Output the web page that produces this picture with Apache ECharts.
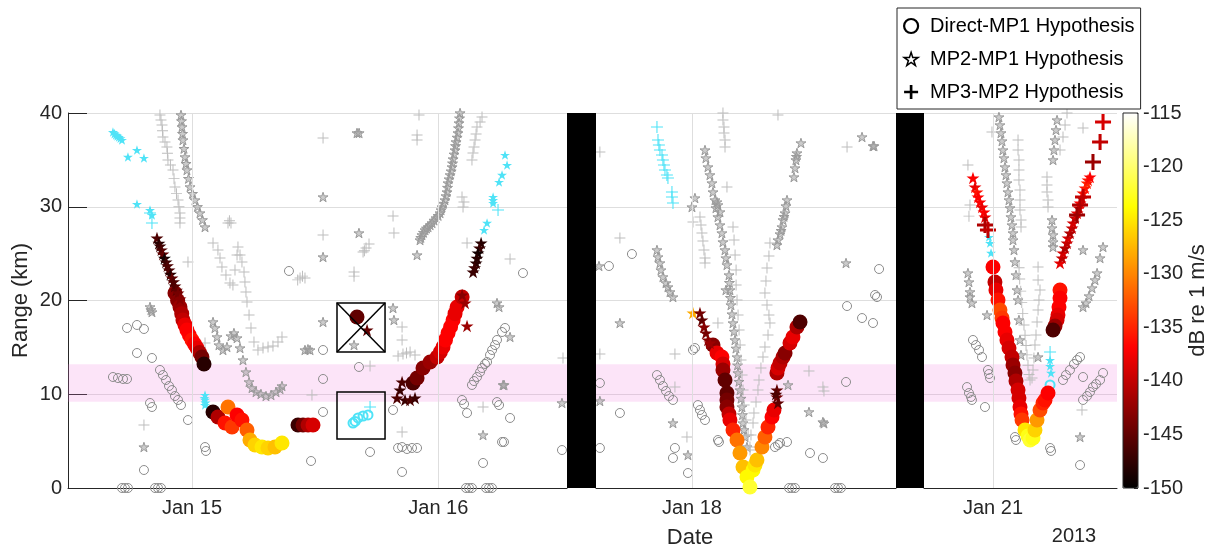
<!DOCTYPE html>
<html><head><meta charset="utf-8">
<script src="https://cdn.jsdelivr.net/npm/echarts@6/dist/echarts.min.js"></script>
<style>html,body{margin:0;padding:0;background:#fff}#c{width:1215px;height:548px}</style>
</head><body><div id="c"></div><script>
// ---------- axis / tick data (x in hours after Jan 15 2013 00:00, y in km) ----------
const tickHours = [0, 24, 72, 144];
const tickLabels = ['Jan 15', 'Jan 16', 'Jan 18', 'Jan 21'];
const segments = [[-12.08, 36.54], [62.65, 91.88], [137.28, 156.08]];
const rangeMin = 0, rangeMax = 40, rangeStep = 10;
const dBMin = -150, dBMax = -115, dBStep = 5;
const pinkBand = [9.2, 13.2];
const boxA = [14.13, 14.51, 18.81, 19.73];
const boxB = [14.13, 5.23, 18.81, 10.24];

// ---------- gray (non-selected) detections ----------
const grayCircles = [
 [-7.7,11.84],[-7.21,11.73],[-6.72,11.63],[-6.33,11.63],
 [-3.12,12.59],[-2.83,12.05],[-2.53,11.52],[-2.24,10.88],[-1.95,10.45],[-1.66,9.81],[-1.36,9.39],[-1.07,8.85],
 [-6.33,17.07],[-5.36,17.39],[-4.68,16.96],[-5.36,14.4],[-3.9,13.87],[-4.09,9.07],[-3.9,8.64],[-0.39,7.25],[1.27,4.37],[1.36,3.95],[-4.68,1.92],[12.77,14.72],[12.77,11.63],[12.77,8.11],[11.6,2.88],[9.45,23.15],
 [-6.82,0],[-6.53,0],[-6.24,0],[-3.6,0],[-3.31,0],[-3.02,0],
 [27.28,10.99],[27.48,11.41],[27.77,11.84],[28.07,12.37],[28.26,12.8],[28.55,13.23],[28.75,13.44],[29.04,14.19],[29.24,14.72],[29.53,15.25],[29.72,15.79],[30.21,16.64],[30.5,17.07],
 [26.31,9.39],[26.51,8.96],[26.8,8.0],[29.72,9.17],[29.92,8.85],[30.99,7.47],[30.21,4.91],[30.4,4.91],[28.36,2.67],[36.05,4.05],[19.59,8.32],[16.27,12.91],[17.35,3.84],[20.47,1.71],[20.08,4.27],[20.47,4.37],[20.95,4.16],[21.44,4.27],[21.93,4.27],[32.25,22.93],
 [26.7,0],[26.99,0],[27.28,0],[28.65,0],[28.94,0],[29.23,0],
 [66.15,24.96],[63.91,23.68],[90.23,23.36],[89.84,20.59],[90.03,20.37],[68.59,12.05],[68.88,11.52],[69.17,10.88],[69.47,10.35],[69.76,9.81],[70.15,9.39],[72.58,8.85],[72.78,8.32],[72.97,7.79],[73.27,7.25],[74.53,5.12],[74.63,4.91],[80.09,4.37],[80.38,4.59],[80.58,4.8],[81.26,4.91],[63.03,11.2],[64.98,8.0],[63.03,4.27],[70.34,4.27],[70.15,3.2],[71.61,1.6],[72.1,14.72],[72.29,14.93],[83.5,3.73],[84.76,3.2],[87.11,19.41],[88.57,18.13],[89.64,17.6],[87.01,11.31],
 [81.46,0],[81.75,0],[82.04,0],[85.94,0],[86.23,0],[86.52,0],
 [142.05,15.79],[142.34,15.25],[142.64,14.72],[142.93,13.97],[143.51,12.59],[143.61,12.16],[143.71,11.73],[141.47,10.77],[141.66,10.13],[141.86,9.71],[141.95,9.39],[143.22,8.64],[146.14,5.44],[146.24,5.12],[149.56,4.27],[149.66,3.95],[152.48,2.45],[150.82,11.52],[151.11,12.05],[151.5,12.59],[151.89,13.23],[152.19,13.65],[152.48,13.97],[154.72,12.27],[154.43,11.52],[154.04,11.09],[153.74,10.77],[153.45,10.24],[153.16,9.81],[152.77,9.39],[152.77,11.84]
];
const grayStars = [
 [-1.07,39.79],[-1.02,39.15],[-0.97,38.51],[-0.92,37.8],[-0.88,37.12],[-0.78,36.2],[-0.68,35.31],[-0.58,34.6],[-0.49,33.92],[-0.34,33.0],[-0.19,32.11],[0.05,31.4],[0.29,30.72],[0.53,30.0],[0.78,29.33],[1.02,28.6],[1.27,27.84],
 [2.05,17.71],[2.24,17.07],[2.44,16.11],[2.63,15.25],[3.02,14.72],[3.41,15.04],[3.8,16.21],[4.09,16.53],[4.39,16.0],[4.68,14.93],[4.97,13.65],[5.26,12.37],[5.56,11.31],[5.85,10.67],[6.24,10.24],[6.72,10.03],[7.21,9.81],[7.7,9.92],[8.19,10.24],[8.58,10.56],[8.77,10.88],
 [11.01,14.72],[11.3,14.8],[11.5,14.72],[-4.09,19.31],[-3.9,18.77],[-4.0,19.0],
 [12.77,31.04],[12.77,24.64],[-4.68,4.37],[12.77,17.71],[16.08,37.87],[16.28,37.87],[16.27,27.2],[21.93,24.85],[19.59,19.2],[19.68,17.92],[15.79,15.25],
 [26.12,40.0],[26.07,39.45],[26.02,38.93],[25.97,38.4],[25.92,37.87],[25.83,37.4],[25.73,36.91],[25.68,36.5],[25.63,36.05],[25.53,35.6],[25.44,35.09],[25.39,34.65],[25.34,34.24],[25.25,33.8],[25.15,33.39],[25.05,32.95],[24.95,32.53],[24.9,32.05],[24.85,31.57],[24.75,31.15],[24.65,30.72],[24.5,30.35],[24.36,29.97],[24.27,29.65],[24.17,29.33],[23.98,29.05],[23.78,28.8],[23.58,28.55],[23.39,28.27],[23.2,28.05],[23.0,27.84],[22.85,27.7],[22.71,27.52],[22.56,27.25],[22.41,26.99],[22.3,26.7],[22.22,26.45],
 [29.72,19.73],[29.92,19.31],[30.99,16.11],[30.31,10.99],[30.41,10.99],[28.36,5.65],[36.05,9.07],
 [73.27,36.05],[73.36,35.2],[73.56,34.24],[73.75,33.39],[73.95,32.53],[74.05,31.57],[74.24,30.72],[74.34,29.87],[74.53,28.91],[74.73,28.05],[74.92,27.2],[75.02,26.24],[75.22,25.39],[75.31,24.53],[75.41,23.79],[75.61,22.72],[75.65,21.9],[75.7,21.12],[75.75,20.3],[75.8,19.52],[75.9,18.55],[76.0,17.6],[76.1,16.7],[76.19,15.79],[76.29,14.9],[76.39,13.97],[76.44,13.1],[76.48,12.27],[76.58,11.35],[76.68,10.45],[76.78,9.55],[76.87,8.64],[76.92,7.8],[76.97,6.93],[77.07,6.2],[77.17,5.44],[77.36,4.37],[74.53,30.19],[74.73,29.44],[74.43,30.5],
 [81.26,30.72],[81.16,30.08],[81.07,29.33],[80.97,28.95],[80.87,28.59],[80.77,27.84],[80.68,27.45],[80.58,27.09],[80.38,26.45],[80.28,25.92],
 [82.62,36.8],[82.23,35.73],[82.18,35.35],[82.13,34.99],[82.04,34.13],[81.94,33.17],[88.57,37.44],[89.64,36.48],[89.74,36.48],
 [68.59,25.39],[68.69,24.64],[68.88,24.0],[68.98,23.25],[69.17,22.51],[69.47,21.87],[69.66,21.44],[69.86,20.91],[70.15,20.37],
 [72.29,30.93],[72.0,29.97],[87.01,24.0],[75.31,21.12],[62.94,23.68],[64.98,17.6],[63.03,9.28],[70.15,6.93],[71.61,3.52],[81.36,10.99],[83.4,8.11],[84.76,7.04],[84.86,6.9],
 [144.58,39.57],[144.68,38.72],[144.78,37.87],[144.88,37.01],[144.97,36.05],[145.07,35.2],[145.17,34.24],[145.27,33.39],[145.36,32.53],[145.46,31.57],[145.56,30.72],[145.66,29.87],[145.75,28.91],[145.85,28.05],[145.95,27.2],[145.95,26.45],[146.05,25.39],[146.14,24.11],[146.24,22.72],[146.34,21.12],[146.44,20.05],[146.53,17.92],[146.63,15.79],[146.73,14.19],
 [149.75,28.59],[149.75,27.73],[149.85,26.99],[149.85,26.24],[149.85,25.71],
 [150.24,39.25],[150.14,38.19],[150.04,37.12],[149.94,36.05],[149.85,34.99],
 [154.72,25.71],[154.43,24.53],[152.77,25.39],
 [154.14,22.93],[153.94,22.19],[153.65,21.33],[153.36,20.48],[153.06,19.73],[152.77,19.31],
 [141.56,22.93],[141.66,21.97],[141.76,20.91],[141.76,20.37],[141.95,19.73],[143.42,18.45],[152.48,5.44],[148.39,13.97]
];
const grayPlus = [
 [-3.12,39.79],[-3.02,39.25],[-2.92,38.72],[-2.87,38.1],[-2.83,37.44],[-2.63,36.9],[-2.44,36.37],[-2.39,35.7],[-2.34,34.99],[-2.1,34.45],[-1.85,33.92],[-1.75,33.0],[-1.66,32.11],[-1.51,31.4],[-1.36,30.72],[-1.27,30.0],[-1.17,29.33],[-1.17,28.8],[-1.17,28.27],
 [2.05,26.13],[2.53,25.39],[2.73,24.53],[2.92,23.57],[3.31,22.72],[3.7,21.87],[3.99,21.65],[4.19,23.25],[4.39,24.85],[4.48,25.71],[4.68,24.85],[4.87,24.11],[5.07,23.04],[5.16,21.97],[5.26,20.91],[5.36,19.84],[5.56,18.45],[5.75,17.07],[6.04,15.57],[6.43,14.72],[6.92,14.93],[7.41,15.04],[7.89,15.15],[8.38,15.57],[8.77,16.11],
 [3.51,28.27],[3.8,28.27],[3.65,28.5],[11.01,22.4],[10.53,22.4],[10.77,22.6],[10.3,22.2],
 [12.77,37.33],[12.77,26.99],[-0.39,24.11],[-4.68,6.72],[1.27,15.47],[11.69,9.92],[22.12,39.79],[21.93,37.65],[21.93,37.12],[19.59,29.01],[19.68,27.2],[15.79,23.04],[15.79,22.6],[26.8,26.13],[30.99,24.43],[20.47,17.17],[20.47,15.79],[17.35,13.01],[28.36,8.64],[36.15,13.87],[20.47,5.97],
 [16.67,25.17],[16.96,25.6],[17.25,26.03],[16.8,25.3],[20.08,14.08],[20.56,14.29],[21.25,14.51],[21.73,14.19],[20.9,14.4],
 [28.26,39.57],[28.07,39.04],[27.77,38.51],[27.68,37.76],[27.58,37.12],[27.48,36.37],[27.38,35.73],[27.28,34.99],[26.31,31.04],[26.41,29.97],[26.5,30.5],
 [72.78,28.91],[72.88,28.05],[72.97,27.2],[73.07,26.35],[73.17,25.39],[73.27,24.53],[73.27,24.0],
 [75.02,40.0],[75.02,39.25],[75.12,38.51],[75.12,37.87],[75.22,37.12],[75.22,36.37],
 [76.0,27.84],[76.1,26.45],[76.2,24.85],[76.3,23.25],[76.3,21.65],[76.39,20.05],[76.49,18.45],[76.59,16.85],[76.69,15.25],[76.78,13.65],[76.88,12.05],[76.98,10.45],[77.08,8.85],[77.27,7.25],[77.47,5.65],[77.66,4.05],
 [79.6,26.13],[79.5,24.75],[79.31,23.47],[79.21,22.08],[79.11,20.8],[79.31,19.52],[79.5,18.45],[79.6,17.6],[79.41,16.32],[79.11,15.04],[78.92,13.97],[78.72,12.8],[78.53,11.52],[78.43,10.45],[78.24,9.17],[78.04,8.0],[77.95,6.93],[77.75,5.65],[77.65,4.37],
 [63.03,35.84],[75.41,32.11],[80.38,39.79],[87.11,36.37],[64.98,26.67],[72.1,28.37],[63.03,14.29],[70.34,14.29],[70.34,10.77],[71.51,5.44],[83.4,12.48],[84.76,10.77],[84.86,10.35],[74.53,17.6],
 [146.44,37.12],[146.44,36.05],[146.53,34.99],[146.53,33.92],[146.53,32.85],[146.63,31.79],[146.63,30.72],[146.63,29.65],[146.73,28.59],[146.73,27.84],
 [149.26,33.17],[149.26,32.32],[149.26,31.57],[149.36,30.72],[149.36,29.97],
 [146.54,23.5],[146.6,22.3],[146.7,21.0],[146.8,19.8],[146.9,18.6],[147.02,17.39],[147.12,16.3],[147.22,15.2],[147.31,14.2],[147.41,13.1],[147.51,12.1],[147.61,11.52],
 [148.58,21.12],[148.48,20.05],[148.39,18.99],[148.29,17.71],[148.19,16.32],[148.09,15.25],[147.99,13.87],[147.9,12.59],[147.8,11.73],[148.39,23.57],[148.39,22.19],
 [151.21,40.0],[151.02,38.72],[150.82,37.44],[150.53,36.05],
 [141.56,34.45],[141.76,30.19],[143.9,37.97],[152.77,38.4],[152.67,8.32],[141.66,29.0]
];

// ---------- cyan detections ----------
const cyanStars = [
 [-7.7,37.97],[-7.55,37.8],[-7.41,37.65],[-7.27,37.55],[-7.12,37.44],[-6.97,37.3],[-6.82,37.12],[-6.24,35.31],[-5.36,36.05],[-4.68,35.2],[-5.36,30.29],[-4.09,29.65],[-3.9,29.12],
 [1.27,9.92],[1.22,9.6],[1.27,9.39],[1.32,9.1],[1.27,8.85],
 [30.5,35.52],[30.7,34.45],[30.21,33.39],[29.92,32.64],[29.34,31.04],[29.34,30.7],[29.34,30.4],[28.75,28.27],[28.46,27.52],
 [143.61,26.77],[143.71,26.13],[143.81,25.07],[149.56,13.65],[149.56,13.01],[149.65,12.27]
];
const cyanPlus = [
 [-4.09,29.33],[-3.9,28.27],[29.82,29.65],[17.35,8.64],
 [68.59,38.51],[68.69,37.12],[68.78,36.59],[68.88,36.05],[69.08,35.52],[69.17,34.99],[69.27,34.45],[69.37,33.92],[69.56,33.39],[69.66,33.07],[70.05,31.57],[70.05,31.04],[70.15,30.4],
 [149.56,14.51]
];
const cyanCircles = [[15.69,6.93],[15.9,7.1],[16.18,7.47],[16.67,7.68],[17.15,7.79],[149.56,10.99]];

// ---------- colour-coded detections [hour, km, dB re 1 m/s] ----------
const hotCircles = [
 [-1.66,20.8,-143],[-1.4,20.0,-143],[-1.17,19.31,-142],[-1.0,18.6,-141],[-0.88,17.92,-140],[-0.68,17.4,-138],[-0.49,16.85,-137],[-0.25,16.3,-137],[0,15.79,-136],[0.25,15.35,-137],[0.49,14.93,-138],[0.73,14.45,-141],[0.97,13.97,-144],[1.17,13.23,-148],
 [2.05,8.11,-148],[2.53,7.57,-141],[3.22,6.93,-136],[3.51,8.64,-131],[3.9,6.51,-134],[4.39,7.79,-137],[4.87,7.25,-136],[5.36,6.19,-132],[5.65,5.12,-128],[6.14,4.59,-126],[6.82,4.37,-125],[7.41,4.27,-126],[8.09,4.37,-127],[8.77,4.8,-125],
 [10.33,6.72,-147],[10.82,6.72,-144],[11.31,6.72,-141],[11.79,6.72,-139],
 [16.08,18.24,-145],
 [21.54,11.2,-146],[21.93,11.73,-144],[22.51,12.8,-143],[23.2,13.44,-142],[23.88,13.97,-140],[24.2,14.5,-139],[24.46,15.04,-138],[24.7,15.8,-137],[24.95,16.53,-137],[25.2,17.2,-137],[25.44,17.92,-137],[25.63,18.6,-138],[25.83,19.31,-138],[26.32,20.37,-140],
 [74.05,15.25,-143],[74.44,14.4,-138],[74.92,13.97,-137],[75.02,13.23,-139],[75.02,12.59,-142],[75.22,11.52,-145],[75.41,10.13,-145],[75.41,9.39,-144],[75.41,8.64,-143],[75.61,7.89,-140],[75.7,7.25,-138],[76.0,6.19,-135],[76.39,5.12,-131],[76.68,3.73,-129],[76.97,2.24,-127],[77.36,1.17,-124],[77.65,0.11,-122],
 [77.95,1.92,-124],[78.14,2.45,-125],[78.33,2.99,-127],[78.82,4.37,-130],[79.11,5.44,-132],[79.41,6.51,-135],[79.8,7.57,-137],[79.99,8.32,-138],
 [80.28,12.27,-141],[80.38,12.8,-139],[80.58,13.33,-140],[80.87,13.97,-141],[81.07,14.4,-143],[81.55,15.47,-139],[81.84,16.11,-138],[82.23,17.17,-141],[82.53,17.71,-146],
 [144.0,23.57,-137],[144.19,21.97,-140],[144.29,21.12,-138],[144.49,20.05,-136],[144.68,18.99,-133],[144.88,18.13,-134],[144.97,17.6,-137],[145.17,16.64,-137],[145.36,15.79,-138],[145.56,14.93,-139],[145.85,13.97,-140],[145.95,13.12,-142],[146.14,12.27,-143],[146.24,11.41,-141],[146.44,10.45,-139],[146.53,9.6,-139],[146.63,8.64,-138],[146.73,7.89,-136],[146.83,7.25,-134],[147.12,6.19,-125],[147.41,5.55,-123],[147.61,5.12,-122],[147.9,5.33,-123],
 [148.09,6.19,-126],[148.29,7.25,-129],[148.58,8.32,-133],[148.87,9.07,-135],[149.07,9.39,-136],[149.36,10.13,-137],
 [150.53,21.12,-136],[150.53,20.27,-137],[150.43,19.31,-137],[150.33,18.45,-138],[150.24,17.92,-139],[150.04,17.28,-142],[149.85,16.85,-146]
];
const hotStars = [
 [-3.41,26.67,-146],[-3.22,26.1,-148],[-3.12,25.81,-147],[-2.98,25.4,-146],[-2.83,24.96,-145],[-2.68,24.5,-149],[-2.53,24.11,-147],[-2.39,23.7,-146],[-2.24,23.25,-146],[-2.1,22.8,-148],[-1.95,22.4,-145],[-1.8,22.0,-146],[-1.66,21.55,-146],[-1.51,21.1,-145],[-1.36,20.8,-144],[-1.17,20.16,-143],
 [28.17,26.13,-148],[28.02,25.6,-147],[27.87,25.07,-149],[27.77,24.5,-148],[27.68,24.0,-148],[27.53,23.5,-147],[27.39,23.04,-147],
 [26.32,20.59,-143],[26.61,19.73,-142],[26.8,17.28,-142],
 [20.47,11.31,-146],[20.27,10.45,-147],[19.98,9.6,-146],[20.76,9.39,-147],[21.25,9.39,-146],[21.73,9.6,-147],
 [17.06,16.85,-145],
 [72.1,18.67,-128],[72.78,18.67,-144],[72.97,17.92,-145],[73.17,17.17,-143],[73.36,16.53,-144],[73.56,15.79,-143],[73.75,15.47,-142],
 [80.28,10.45,-145],[80.28,9.71,-144],[80.38,9.07,-145],[80.18,10.0,-146],
 [142.05,33.07,-137],[142.25,32.11,-138],[142.44,31.57,-136],[142.54,31.04,-137],[142.73,30.51,-137],[142.93,29.97,-138],[143.12,29.44,-137],[143.22,28.91,-138],
 [150.53,24.0,-138],[150.73,24.53,-140],[150.82,25.07,-139],[151.02,25.6,-141],[151.21,26.13,-140],[151.31,26.67,-139],[151.5,27.2,-141],[151.7,27.73,-140],[151.8,28.27,-139],[151.99,28.8,-140],[152.19,29.33,-138],[152.38,29.87,-139],[152.48,30.4,-137],[152.67,30.93,-138],[152.77,31.47,-136],[152.97,32.0,-136],[153.16,32.53,-135],[153.26,32.85,-136],[153.45,33.17,-137]
];
const hotPlus = [
 [143.22,28.05,-141],[143.51,27.52,-140],[152.48,30.19,-141],[152.77,31.04,-140],[152.19,29.12,-142],[153.74,34.77,-142],[154.43,36.91,-140],[154.72,39.04,-139]
];

// ---------- styling / layout ----------
const FONT = '"Liberation Sans", Arial, Helvetica, sans-serif';
const INK = '#262626';
const GRIDC = '#dedede';
const HOT = ['#000000','#550000','#aa0000','#ff0000','#ff5500','#ffaa00','#ffff00','#ffff80','#ffffff'];
const STAR = 'path://M0,-10L2.245,-3.09L9.51,-3.09L3.633,1.18L5.88,8.09L0,3.82L-5.88,8.09L-3.633,1.18L-9.51,-3.09L-2.245,-3.09Z';
const PLUS = 'path://M-0.9,-10H0.9V-0.9H10V0.9H0.9V10H-0.9V0.9H-10V-0.9H-0.9Z';
const PLUS_THICK = 'path://M-1.9,-10H1.9V-1.9H10V1.9H1.9V10H-1.9V1.9H-10V-1.9H-1.9Z';
const NAMES = ['Direct-MP1 Hypothesis', 'MP2-MP1 Hypothesis', 'MP3-MP2 Hypothesis'];
const PT = 113, PH = 375;
const gridPx = [[68, 567], [596, 896], [924, 1117]];
const CB = {left: 1123, width: 15};

const grids = [], xAxes = [], yAxes = [], series = [], hotIdx = [];
segments.forEach((seg, i) => {
  grids.push({left: gridPx[i][0], top: PT, width: gridPx[i][1] - gridPx[i][0], height: PH, containLabel: false, outerBoundsMode: 'none'});
  const tv = tickHours.filter(h => h >= seg[0] && h <= seg[1]);
  xAxes.push({
    type: 'value', gridIndex: i, min: seg[0], max: seg[1],
    axisLine: {show: true, onZero: false, lineStyle: {color: INK, width: 1}},
    axisTick: {show: true, inside: true, length: 18, customValues: tv, lineStyle: {color: INK, width: 1}},
    axisLabel: {show: true, customValues: tv, margin: 10, fontSize: 20, fontFamily: FONT, color: INK,
      formatter: v => tickLabels[tickHours.indexOf(Math.round(v))] || ''},
    splitLine: {show: false}
  });
  yAxes.push({
    type: 'value', gridIndex: i, min: rangeMin, max: rangeMax, interval: rangeStep, position: 'left',
    axisLine: {show: i === 0, onZero: false, lineStyle: {color: INK, width: 1}},
    axisTick: {show: i === 0, inside: true, length: 19, lineStyle: {color: INK}},
    axisLabel: {show: i === 0, margin: 6, fontSize: 20, fontFamily: FONT, color: INK},
    splitLine: {show: true, lineStyle: {color: GRIDC, width: 1}},
    name: i === 0 ? 'Range (km)' : '', nameLocation: 'middle', nameGap: 36, nameRotate: 90,
    nameTextStyle: {fontSize: 22, fontFamily: FONT, color: INK}
  });
  const inSeg = p => p[0] >= seg[0] && p[0] <= seg[1];
  const base = {type: 'scatter', xAxisIndex: i, yAxisIndex: i, silent: true, animation: false};
  // pink band + vertical grid lines
  series.push(Object.assign({}, base, {name: 'decor' + i, z: 1, data: [],
    markArea: {silent: true, itemStyle: {color: 'rgba(240,120,220,0.2)'}, data: [[{yAxis: pinkBand[0]}, {yAxis: pinkBand[1]}]]},
    markLine: {silent: true, symbol: ['none', 'none'], label: {show: false},
      lineStyle: {color: GRIDC, width: 1, type: 'solid'}, data: tv.map(h => ({xAxis: h}))}
  }));
  series.push(Object.assign({}, base, {name: NAMES[0], z: 2, symbol: 'circle', symbolSize: 9,
    itemStyle: {color: 'rgba(255,255,255,0)', borderColor: '#8c8c8c', borderWidth: 1, opacity: 1}, data: grayCircles.filter(inSeg)}));
  series.push(Object.assign({}, base, {name: NAMES[1], z: 2, symbol: STAR, symbolKeepAspect: true, symbolSize: 10,
    itemStyle: {color: 'rgba(160,160,160,0.55)', borderColor: '#999999', borderWidth: 1, opacity: 1}, data: grayStars.filter(inSeg)}));
  series.push(Object.assign({}, base, {name: NAMES[2], z: 2, symbol: PLUS, symbolKeepAspect: true, symbolSize: 11,
    itemStyle: {color: '#bdbdbd', opacity: 1}, data: grayPlus.filter(inSeg)}));
  series.push(Object.assign({}, base, {name: NAMES[1], z: 3, symbol: STAR, symbolKeepAspect: true, symbolSize: 10,
    itemStyle: {color: '#4fe3f7', opacity: 1}, data: cyanStars.filter(inSeg)}));
  series.push(Object.assign({}, base, {name: NAMES[2], z: 3, symbol: PLUS, symbolKeepAspect: true, symbolSize: 12,
    itemStyle: {color: '#4fe3f7', opacity: 1}, data: cyanPlus.filter(inSeg)}));
  series.push(Object.assign({}, base, {name: NAMES[0], z: 3, symbol: 'circle', symbolSize: 9,
    itemStyle: {color: 'rgba(255,255,255,0)', borderColor: '#4fe3f7', borderWidth: 2, opacity: 1}, data: cyanCircles.filter(inSeg)}));
  hotIdx.push(series.length);
  series.push(Object.assign({}, base, {name: NAMES[0], z: 4, symbol: 'circle', symbolSize: 15, itemStyle: {opacity: 1}, data: hotCircles.filter(inSeg)}));
  hotIdx.push(series.length);
  series.push(Object.assign({}, base, {name: NAMES[1], z: 4, symbol: STAR, symbolKeepAspect: true, symbolSize: 13, itemStyle: {opacity: 1}, data: hotStars.filter(inSeg)}));
  hotIdx.push(series.length);
  series.push(Object.assign({}, base, {name: NAMES[2], z: 4, symbol: PLUS_THICK, symbolKeepAspect: true, symbolSize: 16, itemStyle: {opacity: 1}, data: hotPlus.filter(inSeg)}));
});
// annotation boxes (first segment)
series.push({type: 'scatter', name: 'boxes', xAxisIndex: 0, yAxisIndex: 0, z: 6, silent: true, data: [], animation: false,
  markArea: {silent: true, itemStyle: {color: 'rgba(0,0,0,0)', borderColor: '#000', borderWidth: 1.5},
    data: [[{coord: [boxA[0], boxA[1]]}, {coord: [boxA[2], boxA[3]]}], [{coord: [boxB[0], boxB[1]]}, {coord: [boxB[2], boxB[3]]}]]},
  markLine: {silent: true, symbol: ['none', 'none'], label: {show: false}, lineStyle: {color: '#000', width: 1.5, type: 'solid'},
    data: [[{coord: [boxA[0], boxA[1]]}, {coord: [boxA[2], boxA[3]]}], [{coord: [boxA[0], boxA[3]]}, {coord: [boxA[2], boxA[1]]}]]}
});
// colorbar axis grid
grids.push({left: CB.left, top: PT, width: CB.width, height: PH, containLabel: false, outerBoundsMode: 'none'});
xAxes.push({type: 'value', gridIndex: 3, min: 0, max: 1, show: false});
yAxes.push({type: 'value', gridIndex: 3, min: dBMin, max: dBMax, interval: dBStep, position: 'right',
  axisLine: {show: false, onZero: false}, axisTick: {show: true, inside: true, length: 4, lineStyle: {color: INK}},
  axisLabel: {margin: 5, fontSize: 20, fontFamily: FONT, color: INK}, splitLine: {show: false},
  name: 'dB re 1 m/s', nameLocation: 'middle', nameRotate: 90, nameGap: 48,
  nameTextStyle: {fontSize: 22, fontFamily: FONT, color: INK}});

const chart = echarts.init(document.getElementById('c'), null, {renderer: 'canvas'});
chart.setOption({
  animation: false,
  backgroundColor: '#fff',
  grid: grids, xAxis: xAxes, yAxis: yAxes, series: series,
  visualMap: {type: 'continuous', min: dBMin, max: dBMax, dimension: 2, seriesIndex: hotIdx,
    inRange: {color: HOT}, calculable: false, hoverLink: false, text: null, padding: 0,
    left: CB.left, top: PT, itemWidth: CB.width, itemHeight: PH, orient: 'vertical'},
  legend: {orient: 'vertical', left: 897, top: 8, padding: [8, 6, 7, 6], itemGap: 13, itemWidth: 14, itemHeight: 14,
    borderColor: INK, borderWidth: 1, backgroundColor: '#fff', selectedMode: false,
    textStyle: {fontSize: 20, fontFamily: FONT, color: '#000', padding: [0, 0, 0, 7]},
    data: [
      {name: NAMES[0], icon: 'circle', itemStyle: {color: '#fff', borderColor: '#000', borderWidth: 2.2}},
      {name: NAMES[1], icon: STAR, itemStyle: {color: '#fff', borderColor: '#000', borderWidth: 1.5}},
      {name: NAMES[2], icon: PLUS_THICK, itemStyle: {color: '#000', borderWidth: 0}}
    ]},
  graphic: [
    {type: 'rect', shape: {x: gridPx[0][1], y: PT, width: gridPx[1][0] - gridPx[0][1], height: PH}, style: {fill: '#000'}, z: 50},
    {type: 'rect', shape: {x: gridPx[1][1], y: PT, width: gridPx[2][0] - gridPx[1][1], height: PH}, style: {fill: '#000'}, z: 50},
    {type: 'rect', shape: {x: CB.left, y: PT, width: CB.width, height: PH}, style: {fill: null, stroke: INK, lineWidth: 1}, z: 50},
    {type: 'text', x: 690, y: 538, z: 50, style: {text: 'Date', fontSize: 22, fontFamily: FONT, fill: INK, align: 'center', verticalAlign: 'middle'}},
    {type: 'text', x: 1074, y: 536, z: 50, style: {text: '2013', fontSize: 20, fontFamily: FONT, fill: INK, align: 'center', verticalAlign: 'middle'}}
  ]
});
</script></body></html>
